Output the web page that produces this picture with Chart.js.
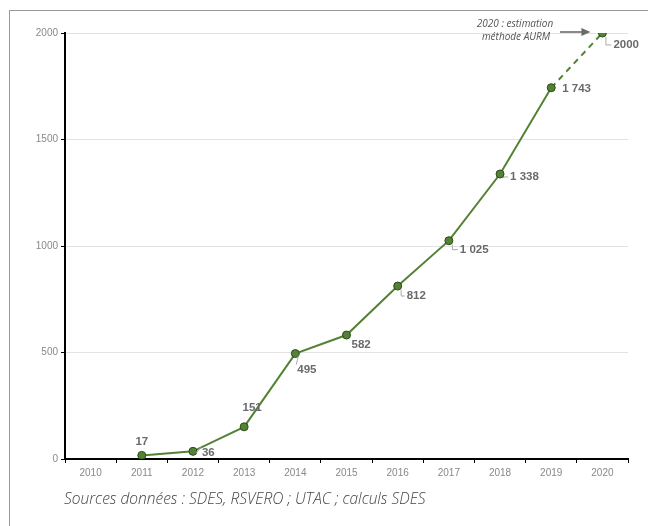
<!DOCTYPE html>
<html lang="fr">
<head>
<meta charset="utf-8">
<script src="https://cdn.jsdelivr.net/npm/chart.js@4/dist/chart.umd.min.js"></script>
<style>
  html, body { margin: 0; padding: 0; background: #fff; overflow: hidden; }
  #wrap { position: relative; width: 648px; height: 526px; }
  #frame { position: absolute; left: 9px; top: 10px; width: 700px; height: 600px;
           border: 1px solid #9a9a9a; box-sizing: border-box; pointer-events: none; }
  canvas { position: absolute; left: 0; top: 0; }
</style>
</head>
<body>
<div id="wrap">
  <div id="frame"></div>
  <canvas id="c" width="648" height="526"></canvas>
</div>
<script>
// Years on the horizontal axis
const years = ['2010', '2011', '2012', '2013', '2014', '2015', '2016', '2017', '2018', '2019', '2020'];
// Vehicle counts per year (2020 is an estimate)
const counts = [null, 17, 36, 151, 495, 582, 812, 1025, 1338, 1743, 2000];
const estimateIndex = 10;
// Vertical axis ticks
const yTicks = [0, 500, 1000, 1500, 2000];

const caption = 'Sources données : SDES, RSVERO ; UTAC ; calculs SDES';
const noteLines = ['2020 : estimation', 'méthode AURM'];

const green = '#548235';

function fmt(v, i) {
  if (i === estimateIndex) return String(v);
  return String(v).replace(/\B(?=(\d{3})+(?!\d))/g, ' ');
}

// Value labels beside each point, with short gray leader ticks
const valueLabels = {
  id: 'valueLabels',
  afterDatasetsDraw(chart, args, opts) {
    const ctx = chart.ctx;
    const meta = chart.getDatasetMeta(0);
    const data = chart.data.datasets[0].data;
    ctx.save();
    ctx.font = 'bold 11.5px "Liberation Sans", Arial, sans-serif';
    ctx.fillStyle = '#6a6a6a';
    ctx.textBaseline = 'middle';
    meta.data.forEach((pt, i) => {
      const v = data[i];
      if (v == null) return;
      const p = opts.place[i];
      const x = pt.x + p.dx, y = pt.y + p.dy;
      if (p.leader) {
        ctx.strokeStyle = '#aaaaaa';
        ctx.lineWidth = 1;
        ctx.beginPath();
        if (p.leader === 'L') {
          ctx.moveTo(pt.x + 3.5, pt.y + 4);
          ctx.lineTo(pt.x + 3.5, y);
          ctx.lineTo(x - 2, y);
        } else {
          ctx.moveTo(pt.x + 3, pt.y + 2);
          ctx.lineTo(x - 1, y - 5);
        }
        ctx.stroke();
      }
      ctx.textAlign = p.align;
      ctx.fillText(fmt(v, i), x, y);
    });
    ctx.restore();
  }
};

// Estimate note with arrow pointing to the 2020 point, and the source line
const notes = {
  id: 'notes',
  afterDraw(chart) {
    const ctx = chart.ctx;
    const meta = chart.getDatasetMeta(0);
    const last = meta.data[estimateIndex];
    ctx.save();
    ctx.fillStyle = '#555';
    ctx.font = 'italic 10px "Open Sans", "Liberation Sans", sans-serif';
    ctx.textAlign = 'center';
    ctx.textBaseline = 'middle';
    ctx.fillText(noteLines[0], 515, 24);
    ctx.fillText(noteLines[1], 516, 37);
    // arrow
    const ax0 = 560, ax1 = last.x - 12, ay = last.y - 1;
    ctx.strokeStyle = '#6b6b6b';
    ctx.fillStyle = '#6b6b6b';
    ctx.lineWidth = 1.6;
    ctx.beginPath();
    ctx.moveTo(ax0, ay);
    ctx.lineTo(ax1 - 6, ay);
    ctx.stroke();
    ctx.beginPath();
    ctx.moveTo(ax1, ay);
    ctx.lineTo(ax1 - 9, ay - 4);
    ctx.lineTo(ax1 - 9, ay + 4);
    ctx.closePath();
    ctx.fill();
    // source
    ctx.fillStyle = '#444';
    ctx.font = 'italic 300 15.5px "Open Sans", sans-serif';
    ctx.textAlign = 'left';
    ctx.fillText(caption, 64, 500);
    ctx.restore();
  }
};

new Chart(document.getElementById('c'), {
  type: 'line',
  data: {
    labels: years,
    datasets: [{
      data: counts,
      borderColor: green,
      borderWidth: 2,
      pointRadius: 4,
      pointBackgroundColor: green,
      pointBorderColor: '#2c4a1a',
      pointBorderWidth: 1,
      tension: 0,
      spanGaps: true,
      segment: {
        borderDash: c => (c.p1DataIndex === estimateIndex ? [6, 5] : undefined)
      }
    }]
  },
  options: {
    responsive: false,
    animation: false,
    layout: { padding: { left: 0, top: 33, right: 20, bottom: 0 } },
    plugins: {
      legend: { display: false },
      tooltip: { enabled: false },
      valueLabels: {
        place: [
          null,
          { dx: 0, dy: -14, align: 'center' },
          { dx: 9, dy: 1, align: 'left', leader: 'h' },
          { dx: 8, dy: -19, align: 'center' },
          { dx: 2, dy: 16, align: 'left', leader: 'd' },
          { dx: 5, dy: 10, align: 'left' },
          { dx: 9, dy: 10, align: 'left', leader: 'L' },
          { dx: 11, dy: 9, align: 'left', leader: 'L' },
          { dx: 10, dy: 3, align: 'left', leader: 'L' },
          { dx: 11, dy: 1, align: 'left' },
          { dx: 11, dy: 12, align: 'left', leader: 'L' }
        ]
      }
    },
    scales: {
      x: {
        type: 'category',
        offset: true,
        afterFit: s => { s.height = 67; },
        border: { color: '#000', width: 2 },
        grid: { offset: true, drawOnChartArea: false, drawTicks: true, tickLength: 4, tickColor: '#000', lineWidth: 1 },
        ticks: { color: '#888', font: { size: 10, family: '"Liberation Sans", Arial, sans-serif' }, padding: 4, maxRotation: 0 }
      },
      y: {
        min: 0,
        max: 2000,
        afterFit: s => { s.width = 65; },
        afterBuildTicks: s => { s.ticks = yTicks.map(v => ({ value: v })); },
        border: { color: '#000', width: 2 },
        grid: { color: '#e3e3e3', lineWidth: 1, drawTicks: true, tickLength: 4, tickColor: '#000' },
        ticks: {
          color: '#888',
          font: { size: 10, family: '"Liberation Sans", Arial, sans-serif' },
          padding: 3,
          callback: v => String(v)
        }
      }
    }
  },
  plugins: [valueLabels, notes]
});
</script>
</body>
</html>
